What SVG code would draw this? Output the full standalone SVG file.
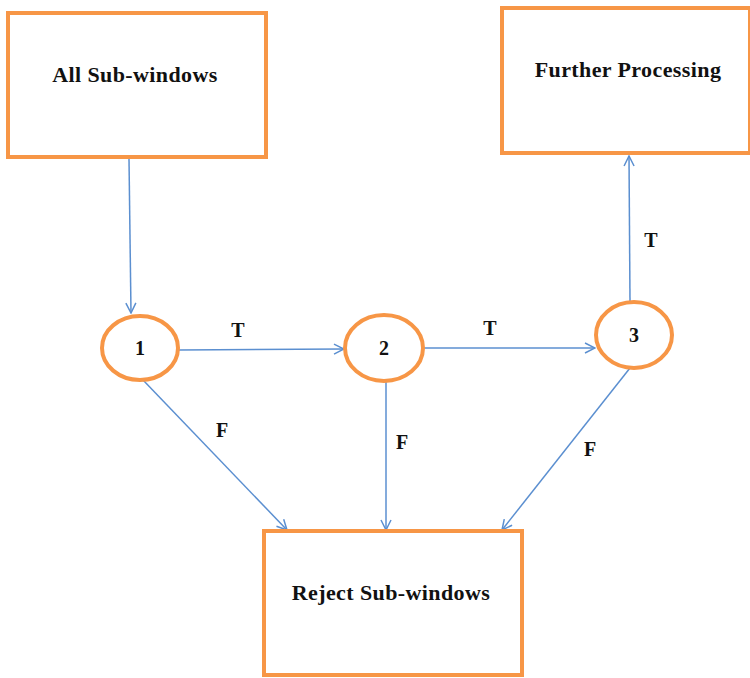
<svg xmlns="http://www.w3.org/2000/svg" width="750" height="678" viewBox="0 0 750 678">
<style>
.box{fill:#fff;stroke:#f79646;stroke-width:4}
.node{fill:#fff;stroke:#f79646;stroke-width:4}
.lbl{font-family:"Liberation Serif","Times New Roman",serif;font-weight:bold;fill:#111;text-anchor:middle}
.big{font-size:22px;letter-spacing:0.4px}
.sm{font-size:20px}
.edge{stroke:#5b8fd0;stroke-width:1.5;fill:none;marker-end:url(#arr)}
</style>
<defs>
<marker id="arr" viewBox="0 0 12 12" refX="11" refY="6" markerWidth="12" markerHeight="12" markerUnits="userSpaceOnUse" orient="auto">
<path d="M1,1 L11,6 L1,11" fill="none" stroke="#5b8fd0" stroke-width="1.5"/>
</marker>
</defs>
<rect width="750" height="678" fill="#fff"/>
<g id="connectors">
<line class="edge" x1="129" y1="159" x2="131" y2="313"/>
<line class="edge" x1="178" y1="350" x2="344" y2="349"/>
<line class="edge" x1="423" y1="348" x2="595" y2="348"/>
<line class="edge" x1="630" y1="302" x2="629" y2="156"/>
<line class="edge" x1="143" y1="380" x2="287" y2="530"/>
<line class="edge" x1="386" y1="381" x2="386" y2="530"/>
<line class="edge" x1="630" y1="368" x2="502" y2="530"/>
<text class="lbl sm" x="238" y="337">T</text>
<text class="lbl sm" x="490" y="335">T</text>
<text class="lbl sm" x="651" y="247">T</text>
<text class="lbl sm" x="222" y="437">F</text>
<text class="lbl sm" x="402" y="449">F</text>
<text class="lbl sm" x="590" y="456">F</text>
</g>
<g id="all-sub-windows">
<rect class="box" x="8" y="13" width="258" height="144"/>
<text class="lbl big" x="135" y="82">All Sub-windows</text>
</g>
<g id="further-processing">
<rect class="box" x="502" y="8" width="248" height="145"/>
<text class="lbl big" x="628" y="77">Further Processing</text>
</g>
<g id="n1">
<ellipse class="node" cx="140" cy="348" rx="38" ry="32"/>
<text class="lbl sm" x="140" y="355">1</text>
</g>
<g id="n2">
<ellipse class="node" cx="384" cy="348" rx="39" ry="33"/>
<text class="lbl sm" x="384" y="355">2</text>
</g>
<g id="n3">
<ellipse class="node" cx="634" cy="335" rx="38" ry="33"/>
<text class="lbl sm" x="634" y="342">3</text>
</g>
<g id="reject-sub-windows">
<rect class="box" x="264" y="531" width="258" height="144"/>
<text class="lbl big" x="391" y="600">Reject Sub-windows</text>
</g>
</svg>
